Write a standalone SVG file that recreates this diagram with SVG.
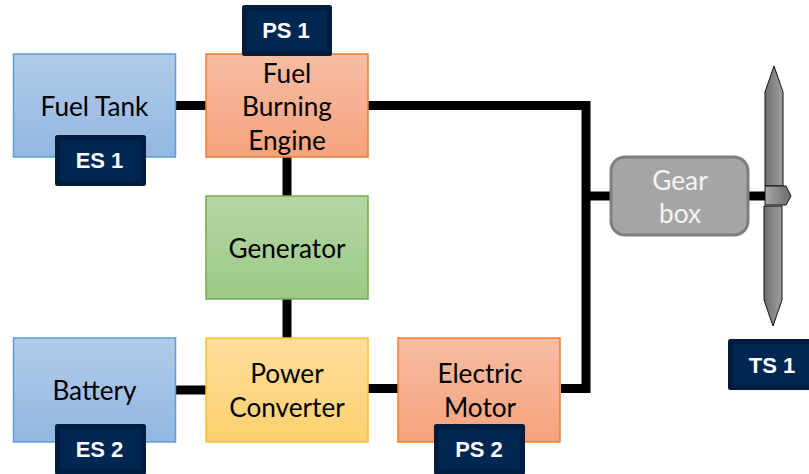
<svg xmlns="http://www.w3.org/2000/svg" width="809" height="474" viewBox="0 0 809 474">
<defs>
<linearGradient id="blue" x1="0" y1="0" x2="0" y2="1"><stop offset="0" stop-color="#b1cbe9"/><stop offset="1" stop-color="#92b7e1"/></linearGradient>
<linearGradient id="orange" x1="0" y1="0" x2="0" y2="1"><stop offset="0" stop-color="#f7bda4"/><stop offset="1" stop-color="#f5a27c"/></linearGradient>
<linearGradient id="green" x1="0" y1="0" x2="0" y2="1"><stop offset="0" stop-color="#b5d5a5"/><stop offset="1" stop-color="#9cca86"/></linearGradient>
<linearGradient id="yellow" x1="0" y1="0" x2="0" y2="1"><stop offset="0" stop-color="#fedd9c"/><stop offset="1" stop-color="#fdd16f"/></linearGradient>
<linearGradient id="shaft" x1="0" y1="0" x2="1" y2="0"><stop offset="0" stop-color="#6e6e6e"/><stop offset="1" stop-color="#a0a0a0"/></linearGradient>
<linearGradient id="hub" x1="0" y1="0" x2="1" y2="0"><stop offset="0" stop-color="#a8a8a8"/><stop offset="1" stop-color="#6a6a6a"/></linearGradient>
</defs>
<style>
.t{font-family:"Lato","Open Sans","Liberation Sans",sans-serif;font-size:26.200px;fill:#000;text-anchor:middle}
.b{fill:url(#blue);stroke:#5f9bd5;stroke-width:1.500}
.o{fill:url(#orange);stroke:#ed7d31;stroke-width:1.500}
.g{fill:url(#green);stroke:#70ad47;stroke-width:1.500}
.y{fill:url(#yellow);stroke:#fdc02f;stroke-width:1.500}
.tag{fill:#002652;stroke:#001d3f;stroke-width:5;stroke-linejoin:round}
.l{font-family:"Liberation Sans",Arial,sans-serif;font-weight:700;font-size:22px;fill:#fff;text-anchor:middle}
#connectors path{fill:none;stroke:#000;stroke-width:9}
</style>
<g id="connectors">
<path d="M176 105.500H206"/>
<path d="M368 105.500H586V388.500H561"/>
<path d="M586 196H611"/>
<path d="M748 196H766"/>
<path d="M287 157V196"/>
<path d="M287 299V338"/>
<path d="M176 390H206"/>
<path d="M368 388.500H398"/>
</g>
<g id="fuel-tank"><rect class="b" x="13.500" y="54" width="162" height="103"/><text class="t" x="94.500" y="116">Fuel Tank</text></g>
<g id="es1"><rect class="tag" x="57.500" y="137.500" width="86" height="46"/><text class="l" x="99.500" y="168">ES 1</text></g>
<g id="engine"><rect class="o" x="206" y="54" width="162" height="103"/><text class="t" x="287" y="83">Fuel</text><text class="t" x="287" y="116">Burning</text><text class="t" x="287" y="150">Engine</text></g>
<g id="ps1"><rect class="tag" x="244.500" y="7.500" width="85" height="46"/><text class="l" x="286" y="38">PS 1</text></g>
<g id="generator"><rect class="g" x="206" y="196" width="162" height="103"/><text class="t" x="287" y="258">Generator</text></g>
<g id="battery"><rect class="b" x="13.500" y="338" width="162" height="104"/><text class="t" x="94.500" y="400">Battery</text></g>
<g id="es2"><rect class="tag" x="57.500" y="426.500" width="86" height="46"/><text class="l" x="99.500" y="457">ES 2</text></g>
<g id="converter"><rect class="y" x="206" y="338" width="162" height="104"/><text class="t" x="287" y="383">Power</text><text class="t" x="287" y="417">Converter</text></g>
<g id="motor"><rect class="o" x="398" y="338" width="162" height="104"/><text class="t" x="480" y="383">Electric</text><text class="t" x="480" y="417">Motor</text></g>
<g id="ps2"><rect class="tag" x="436.500" y="426.500" width="86" height="46"/><text class="l" x="479" y="457">PS 2</text></g>
<g id="gearbox"><rect x="611" y="157" width="137" height="78" rx="14" fill="#a5a5a5" stroke="#7f7f7f" stroke-width="3"/><text class="t" x="680" y="190" style="fill:#f4f4f4">Gear</text><text class="t" x="680" y="223" style="fill:#f4f4f4">box</text></g>
<g id="propeller">
<path d="M774 66L783 92V186H765V92Z" fill="url(#shaft)" stroke="#111" stroke-width="1"/>
<path d="M773 326L782 300V206H764V300Z" fill="url(#shaft)" stroke="#111" stroke-width="1"/>
<path d="M765 186H786L791 196L786 205H765Z" fill="url(#hub)" stroke="#111" stroke-width="1"/>
</g>
<g id="ts1"><rect class="tag" x="730.500" y="341.500" width="86" height="46"/><text class="l" x="772" y="373">TS 1</text></g>
</svg>
